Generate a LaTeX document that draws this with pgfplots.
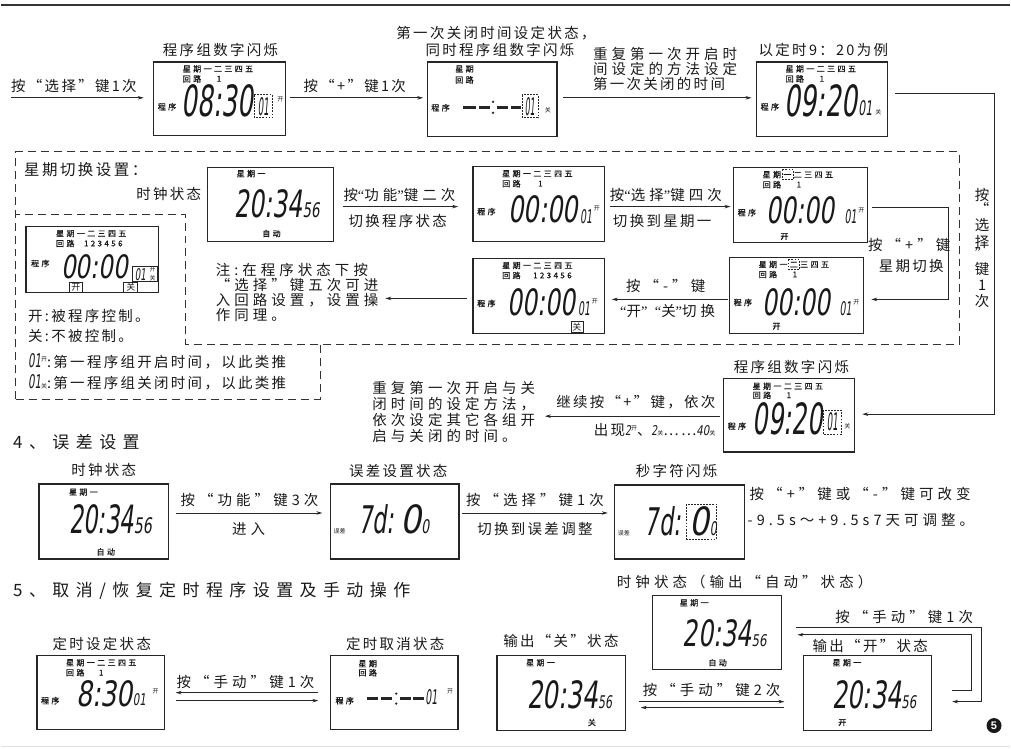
\documentclass[border=0pt]{standalone}
\usepackage{pgfplots}
\pgfplotsset{compat=1.18}
\usepackage{fontspec}
\usepackage{graphicx}
\usetikzlibrary{arrows.meta}
\setmainfont{Liberation Serif}
\newfontfamily\sans{Liberation Sans}
\newfontfamily\cjk{Noto Sans CJK SC}
\newfontfamily\cjka{Noto Sans CJK SC}[LetterSpace=16]
\newfontfamily\cjkb{Noto Sans CJK SC}[LetterSpace=28]
\newfontfamily\cjkc{Noto Sans CJK SC}[LetterSpace=38]
\newfontfamily\cjksm{Noto Sans CJK SC}[LetterSpace=30,FakeBold=1]
\newfontfamily\lcd{DejaVu Sans}[FakeSlant=0.22]

\newcommand\tx{\cjka\fontsize{14.5bp}{16bp}\selectfont}
\newcommand\tw{\cjkb\fontsize{14.5bp}{16bp}\selectfont}
\newcommand\hd{\cjkc\fontsize{17bp}{20bp}\selectfont}
\newcommand\sm{\cjksm\fontsize{8bp}{8bp}\selectfont}
\newcommand\smm{\cjk\fontsize{9bp}{9bp}\selectfont}
\newcommand\tn{\cjk\fontsize{6bp}{6bp}\selectfont}
\newcommand\dg[3]{\resizebox{#1bp}{#2bp}{\lcd #3}}
\newcommand\oq{{\rmfamily“}}
\newcommand\cq{{\rmfamily”}}

% absolute placement
\newcommand\lt[3]{\node[anchor=west] at (axis cs:#1,#2) {#3};}
\newcommand\rt[3]{\node[anchor=east] at (axis cs:#1,#2) {#3};}
\newcommand\ct[3]{\node at (axis cs:#1,#2) {#3};}
% placement relative to a display's top-left corner
\newcommand\Lt[5]{\node[anchor=west] at (axis cs:#1+#3,#2+#4) {#5};}
\newcommand\Ct[5]{\node at (axis cs:#1+#3,#2+#4) {#5};}
\newcommand\Bx[4]{\draw[fr] (axis cs:#1,#2) rectangle (axis cs:#1+#3,#2+#4);}
\newcommand\Sd[6]{\draw[sd] (axis cs:#1+#3,#2+#4) rectangle (axis cs:#1+#5,#2+#6);}
\newcommand\Sb[6]{\draw[line width=0.7bp,black!85] (axis cs:#1+#3,#2+#4) rectangle (axis cs:#1+#5,#2+#6);}
\newcommand\head[2]{\Lt{#1}{#2}{29}{7}{\sm 星期一二三四五}\Lt{#1}{#2}{29}{17}{\sm 回路}\Lt{#1}{#2}{4}{45}{\sm 程序}}
\newcommand\segdash[3]{\draw[line width=2.6bp,black!85] (axis cs:#1,#3) -- (axis cs:#2,#3);}
\newcommand\segdot[2]{\fill[black!85] (axis cs:#1,#2) circle[radius=1.3bp];}

\tikzset{
  fr/.style={line width=1.3bp,black!85},
  sd/.style={line width=0.7bp,black!85,dash pattern=on 1.8bp off 1.3bp},
  ar/.style={-{Stealth[length=6bp,width=3.5bp]},line width=0.8bp,black!85},
  dsh/.style={line width=1bp,black!80,dash pattern=on 8bp off 5bp},
}

\begin{document}
\begin{tikzpicture}[every node/.style={inner sep=0pt,text=black!90}]
\begin{axis}[
  width=1011bp, height=750bp, scale only axis,
  xmin=0, xmax=1011, ymin=0, ymax=750,
  y dir=reverse, hide axis, clip=false
]
\path (axis cs:0,0) rectangle (axis cs:1011,750);
\draw[line width=2bp,black!80] (axis cs:0,5) -- (axis cs:1011,5);
\draw[line width=1bp,black!12] (axis cs:0,748) -- (axis cs:1011,748);

% ---------- row 1
\lt{10}{86}{\tx 按“选择”键1次}
\draw[ar] (axis cs:10,98) -- (axis cs:143,98);
\ct{220}{50}{\tx 程序组数字闪烁}
\Bx{153}{62}{132}{74}
\head{153}{62}
\Lt{153}{62}{63}{17}{\sm 1}
\Lt{153}{62}{28}{39}{\dg{72}{32}{08:30}}
\Sd{153}{62}{101}{33}{119}{56}
\Ct{153}{62}{110}{45}{\dg{11}{18}{01}}
\Ct{153}{62}{127}{38}{\tn 开}

\lt{303}{86}{\tx 按“+”键1次}
\draw[ar] (axis cs:290,98) -- (axis cs:423,98);
\ct{496}{33}{\tx 第一次关闭时间设定状态，}
\ct{500}{50}{\tx 同时程序组数字闪烁}
\Bx{427}{62}{130}{75}
\Lt{427}{62}{28}{7}{\sm 星期}
\Lt{427}{62}{28}{18}{\sm 回路}
\Lt{427}{62}{4}{46}{\sm 程序}
\segdash{463}{476}{108}\segdash{479}{490}{108}
\segdot{493}{102}\segdot{493}{113}
\segdash{497}{508}{108}\segdash{511}{521}{108}
\Sd{427}{62}{95}{33}{111}{56}
\Ct{427}{62}{103}{45}{\dg{10}{18}{01}}
\Ct{427}{62}{121}{48}{\tn 关}

\lt{593}{54}{\tw 重复第一次开启时}
\lt{593}{69}{\tw 间设定的方法设定}
\lt{593}{84}{\tx 第一次关闭的时间}
\draw[ar] (axis cs:563,98) -- (axis cs:752,98);
\ct{824}{50}{\tx 以定时9：20为例}
\Bx{757}{62}{131}{75}
\head{757}{62}
\Lt{757}{62}{63}{17}{\sm 1}
\Lt{757}{62}{28}{39}{\dg{73}{32}{09:20}}
\Ct{757}{62}{109}{46}{\dg{14}{15}{01}}
\Ct{757}{62}{122}{50}{\tn 关}

\draw[ar] (axis cs:896,94) -- (axis cs:995,94) -- (axis cs:995,415) -- (axis cs:863,415);
\ct{983}{195}{\tx 按}
\ct{983}{209}{\tx “}
\ct{983}{225}{\tx 选}
\ct{983}{242}{\tx 择}
\ct{983}{254}{\tx ”}
\ct{983}{270}{\tx 键}
\ct{983}{286}{\tx 1}
\ct{983}{302}{\tx 次}

% ---------- dashed region: week setting
\draw[dsh] (axis cs:15,400) -- (axis cs:15,152) -- (axis cs:960,152) -- (axis cs:960,345) -- (axis cs:185,345) -- (axis cs:185,215) -- (axis cs:15,215);
\draw[dsh] (axis cs:15,400) -- (axis cs:320,400) -- (axis cs:320,345);
\lt{23}{170}{\tx\fontsize{15.5bp}{17bp}\selectfont 星期切换设置：}
\ct{168}{194}{\tx 时钟状态}

\Bx{207}{168}{126}{74}
\Lt{207}{168}{29}{6}{\sm 星期一}
\Lt{207}{168}{27}{36}{\dg{68}{28}{20:34}\dg{17}{15}{56}}
\Ct{207}{168}{64}{66}{\sm 自动}

\lt{343}{195}{\tw 按\oq 功能\cq 键二次}
\draw[ar] (axis cs:343,207) -- (axis cs:458,207);
\lt{348}{221}{\tx 切换程序状态}

\Bx{473}{167}{132}{75}
\head{473}{167}
\Lt{473}{167}{65}{17}{\sm 1}
\Lt{473}{167}{35}{43}{\dg{70}{27}{00:00}}
\Lt{473}{167}{107}{50}{\dg{12}{14}{01}}
\Ct{473}{167}{124}{42}{\tn 开}

\lt{610}{195}{\tw 按\oq 选择\cq 键四次}
\draw[ar] (axis cs:610,207) -- (axis cs:731,207);
\lt{613}{221}{\tx 切换到星期一}

\Bx{734}{168}{134}{75}
\head{734}{168}
\Sd{734}{168}{49}{2}{60}{12}
\Lt{734}{168}{63}{17}{\sm 1}
\Lt{734}{168}{33}{43}{\dg{68}{27}{00:00}}
\Lt{734}{168}{111}{49}{\dg{12}{14}{01}}
\Ct{734}{168}{128}{43}{\tn 开}
\Ct{734}{168}{51}{69}{\sm 开}

\draw[ar] (axis cs:873,208) -- (axis cs:949,208) -- (axis cs:949,300) -- (axis cs:872,300);
\ct{910}{245}{\tw 按“+”键}
\ct{912}{267}{\tx 星期切换}

\Bx{730}{258}{134}{76}
\head{730}{258}
\Sd{730}{258}{59}{2}{70}{12}
\Lt{730}{258}{63}{17}{\sm 1}
\Lt{730}{258}{33}{45}{\dg{68}{27}{00:00}}
\Lt{730}{258}{110}{51}{\dg{12}{14}{01}}
\Ct{730}{258}{127}{45}{\tn 开}
\Ct{730}{258}{47}{69}{\sm 开}

\draw[ar] (axis cs:728,300) -- (axis cs:612,300);
\ct{666}{287}{\tw 按“-”键}
\ct{668}{312}{\tw \oq 开\cq\ \oq 关\cq 切换}

\Bx{473}{259}{132}{75}
\head{473}{259}
\Lt{473}{259}{60}{17}{\sm 123456}
\Lt{473}{259}{34}{44}{\dg{68}{27}{00:00}}
\Lt{473}{259}{105}{50}{\dg{12}{14}{01}}
\Ct{473}{259}{122}{43}{\tn 开}
\Sb{473}{259}{98}{63}{110}{74}
\Ct{473}{259}{104}{68.5}{\smm 关}

\draw[ar] (axis cs:467,299) -- (axis cs:385,299);
\lt{215}{271}{\tw 注:在程序状态下按}
\lt{215}{286}{\tw “选择”键五次可进}
\lt{215}{301}{\tw 入回路设置，设置操}
\lt{215}{316}{\tw 作同理。}

\Bx{25}{227}{133}{66}
\Lt{25}{227}{30}{7}{\sm 星期一二三四五}
\Lt{25}{227}{30}{17}{\sm 回路}
\Lt{25}{227}{58}{17}{\sm 123456}
\Lt{25}{227}{5}{37}{\sm 程序}
\Lt{25}{227}{35}{40}{\dg{67}{24}{00:00}}
\Sb{25}{227}{107}{40}{132}{55}
\Lt{25}{227}{109}{48}{\dg{11}{12}{01}}
\Ct{25}{227}{127}{47.5}{\tn\shortstack{开\\关}}
\Sb{25}{227}{43}{55.5}{57}{65.5}
\Ct{25}{227}{50}{60.5}{\smm 开}
\Sb{25}{227}{98}{55.5}{112}{65.5}
\Ct{25}{227}{105}{60.5}{\smm 关}

\lt{27}{317}{\tx 开:被程序控制。}
\lt{27}{337}{\tx 关:不被控制。}
\lt{27}{362}{\dg{13}{14}{01}\raisebox{6bp}{\tn 开}{\tx :第一程序组开启时间，以此类推}}
\lt{27}{383}{\dg{13}{14}{01}{\tn 关}{\tx :第一程序组关闭时间，以此类推}}

% ---------- row 3
\ct{792}{368}{\tx 程序组数字闪烁}
\Bx{724}{379}{131}{74}
\Lt{724}{379}{29}{8}{\sm 星期一二三四五}
\Lt{724}{379}{29}{17}{\sm 回路}
\Lt{724}{379}{4}{48}{\sm 程序}
\Lt{724}{379}{63}{17}{\sm 1}
\Lt{724}{379}{29}{41}{\dg{70}{32}{09:20}}
\Sd{724}{379}{100}{32}{118}{56}
\Ct{724}{379}{109}{44}{\dg{11}{18}{01}}
\Ct{724}{379}{124}{48}{\tn 关}

\draw[ar] (axis cs:720,417) -- (axis cs:545,417);
\rt{716}{403}{\tx 继续按“+”键，依次}
\rt{716}{431}{\tx 出现\dg{6}{10}{2}\raisebox{5bp}{\tn 开}、\dg{6}{10}{2}{\tn 关}……\dg{13}{10}{40}{\tn 关}}
\lt{372}{389}{\tw 重复第一次开启与关}
\lt{372}{405}{\tw 闭时间的设定方法，}
\lt{372}{421}{\tw 依次设定其它各组开}
\lt{372}{437}{\tw 启与关闭的时间。}

% ---------- section 4
\lt{12}{443}{\hd 4、误差设置}
\ct{103}{471}{\tx 时钟状态}
\Bx{38}{485}{130}{75}
\Lt{38}{485}{30}{8}{\sm 星期一}
\Lt{38}{485}{30}{35}{\dg{65}{29}{20:34}\dg{18}{16}{56}}
\Ct{38}{485}{67}{68}{\sm 自动}

\draw[ar] (axis cs:175,514) -- (axis cs:322,514);
\ct{249}{501}{\tw 按“功能”键3次}
\ct{248}{530}{\tw 进入}

\ct{398}{472}{\tx 误差设置状态}
\Bx{330}{485}{129}{75}
\Lt{330}{485}{3}{47}{\tn 误差}
\Lt{330}{485}{28}{35}{\dg{36}{29}{7d:}}
\Lt{330}{485}{70}{35}{\dg{21}{29}{0}\dg{8}{14}{0}}

\draw[ar] (axis cs:462,514) -- (axis cs:608,514);
\ct{535}{501}{\tw 按“选择”键1次}
\ct{535}{530}{\tx 切换到误差调整}

\ct{677}{472}{\tx 秒字符闪烁}
\Bx{615}{486}{130}{74}
\Lt{615}{486}{3}{48}{\tn 误差}
\Lt{615}{486}{30}{36}{\dg{36}{29}{7d:}}
\Sd{615}{486}{72}{19}{102}{54}
\Lt{615}{486}{75}{36}{\dg{20}{29}{0}\dg{7}{14}{0}}

\lt{750}{495}{\tw 按“+”键或“-”键可改变}
\lt{748}{521}{\tw -9.5s～+9.5s7天可调整。}

% ---------- section 5
\lt{12}{592}{\hd 5、取消/恢复定时程序设置及手动操作}
\ct{101}{645}{\tx 定时设定状态}
\Bx{36}{657}{128}{74}
\head{36}{657}
\Lt{36}{657}{62}{17}{\sm 1}
\Lt{36}{657}{39}{38}{\dg{57}{26}{8:30}}
\Lt{36}{657}{96}{44}{\dg{13}{12}{01}}
\Ct{36}{657}{119}{36}{\tn 开}

\draw[ar] (axis cs:318,694) -- (axis cs:175,694);
\draw[ar] (axis cs:175,702) -- (axis cs:318,702);
\ct{245}{683}{\tw 按“手动”键1次}

\ct{395}{645}{\tx 定时取消状态}
\Bx{330}{657}{128}{74}
\Lt{330}{657}{28}{8}{\sm 星期}
\Lt{330}{657}{28}{17}{\sm 回路}
\Lt{330}{657}{5}{45}{\sm 程序}
\segdash{367}{378}{700}\segdash{381}{392}{700}
\segdot{396}{695}\segdot{396}{705}
\segdash{400}{411}{700}\segdash{413}{424}{700}
\Lt{330}{657}{95}{42}{\dg{12}{15}{01}}
\Ct{330}{657}{120}{36}{\tn 开}

\lt{617}{583}{\tw 时钟状态（输出“自动”状态）}
\Bx{653}{597}{129}{74}
\Lt{653}{597}{27}{7}{\sm 星期一}
\Lt{653}{597}{30}{38}{\dg{69}{27}{20:34}\dg{15}{12}{56}}
\Ct{653}{597}{65}{67}{\sm 自动}

\ct{561}{642}{\tx 输出“关”状态}
\Bx{497}{657}{129}{75}
\Lt{497}{657}{29}{7}{\sm 星期一}
\Lt{497}{657}{30}{39}{\dg{71}{28}{20:34}\dg{14}{13}{56}}
\Ct{497}{657}{95}{67}{\sm 关}

\draw[ar] (axis cs:639,703) -- (axis cs:785,703);
\draw[ar] (axis cs:785,709) -- (axis cs:641,709);
\ct{712}{691}{\tw 按“手动”键2次}

\ct{871}{647}{\tx 输出“开”状态}
\Bx{804}{657}{128}{75}
\Lt{804}{657}{29}{7}{\sm 星期一}
\Lt{804}{657}{29}{39}{\dg{69}{28}{20:34}\dg{15}{13}{56}}
\Ct{804}{657}{39}{67}{\sm 开}

\ct{905}{618}{\tw 按“手动”键1次}
\draw[ar] (axis cs:797,629) -- (axis cs:982,629) -- (axis cs:982,703) -- (axis cs:953,703);
\draw[ar] (axis cs:953,692) -- (axis cs:972,692) -- (axis cs:972,636) -- (axis cs:798,636);

\node[circle,fill=black!90,minimum size=15bp,inner sep=0pt] at (axis cs:995,727)
  {\color{white}\sans\bfseries\fontsize{11bp}{11bp}\selectfont 5};
\end{axis}
\end{tikzpicture}
\end{document}
